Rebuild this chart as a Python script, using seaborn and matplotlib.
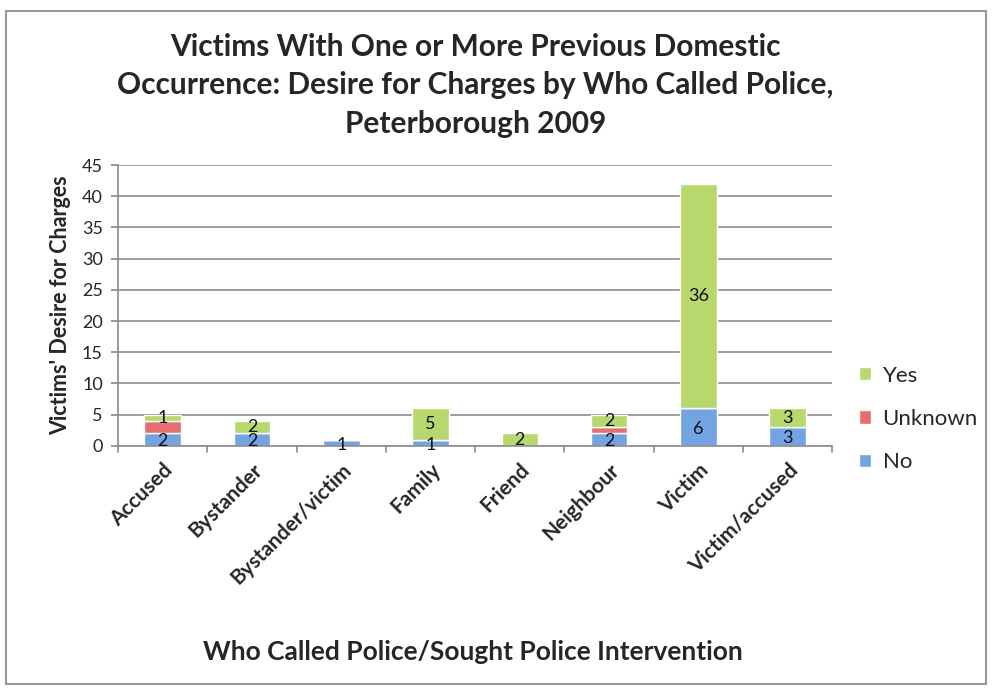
import numpy as np
import pandas as pd
import matplotlib
matplotlib.use("Agg")
import matplotlib.pyplot as plt
import seaborn as sns
from matplotlib.patches import Rectangle

callers = ["Accused", "Bystander", "Bystander/victim", "Family", "Friend",
           "Neighbour", "Victim", "Victim/accused"]
no_vals = [2, 2, 1, 1, 0, 2, 6, 3]
unknown_vals = [2, 0, 0, 0, 0, 1, 0, 0]
yes_vals = [1, 2, 0, 5, 2, 2, 36, 3]
yticks = [0, 5, 10, 15, 20, 25, 30, 35, 40, 45]

sns.set_theme(style="white")
plt.rcParams["font.family"] = ["Lato", "DejaVu Sans"]

fig = plt.figure(figsize=(9.92, 6.88), dpi=100)
ax = fig.add_axes([0.119, 0.352, 0.720, 0.408])

df = pd.DataFrame({"caller": callers, "No": no_vals,
                   "Unknown": unknown_vals, "Yes": yes_vals})
bottom_unknown = np.array(no_vals)
bottom_yes = bottom_unknown + np.array(unknown_vals)

colors = {"No": "#73a3e3", "Unknown": "#e66e6e", "Yes": "#b7d86c"}
width = 0.41
sns.barplot(data=df, x="caller", y="No", color=colors["No"], width=width,
            ax=ax, saturation=1, label="No")
sns.barplot(data=df, x="caller", y="Unknown", color=colors["Unknown"],
            width=width, ax=ax, saturation=1, bottom=bottom_unknown,
            label="Unknown")
sns.barplot(data=df, x="caller", y="Yes", color=colors["Yes"], width=width,
            ax=ax, saturation=1, bottom=bottom_yes, label="Yes")
if ax.get_legend() is not None:
    ax.get_legend().remove()

# value labels centred in the No and Yes segments
for i in range(len(callers)):
    if no_vals[i]:
        ax.text(i, no_vals[i] / 2 - 0.3, str(no_vals[i]), ha="center",
                va="center", fontsize=13, color="#111111")
    if yes_vals[i]:
        ax.text(i, bottom_yes[i] + yes_vals[i] / 2, str(yes_vals[i]),
                ha="center", va="center", fontsize=13, color="#111111")

ax.set_ylim(0, 45)
ax.set_xlim(-0.5, len(callers) - 0.5)
ax.set_yticks(yticks)
ax.set_yticklabels([str(t) for t in yticks], fontsize=13)
ax.yaxis.grid(True, color="#8c8c8c", linewidth=1.2)
ax.set_axisbelow(True)
for s in ["top", "right"]:
    ax.spines[s].set_visible(False)
for s in ["left", "bottom"]:
    ax.spines[s].set_color("#8c8c8c")
    ax.spines[s].set_linewidth(1.2)

ax.set_xticks(range(len(callers)))
ax.set_xticklabels(callers, rotation=45, ha="right", rotation_mode="anchor",
                   fontsize=15, fontweight="bold")
ax.tick_params(axis="x", length=0, pad=10)
ax.tick_params(axis="y", length=5, color="#8c8c8c", left=True, pad=6)
# category separators below the axis
for b in np.arange(-0.5, len(callers), 1.0):
    ax.plot([b, b], [0, -1.0], color="#8c8c8c", lw=1.2, clip_on=False)

ax.set_xlabel("")
ax.set_ylabel("Victims' Desire for Charges", fontsize=15.5,
              fontweight="bold", labelpad=8)

fig.text(0.479, 0.952,
         "Victims With One or More Previous Domestic\n"
         "Occurrence: Desire for Charges by Who Called Police,\n"
         "Peterborough 2009",
         ha="center", va="top", fontsize=21.5, fontweight="bold",
         linespacing=1.45)
fig.text(0.477, 0.053, "Who Called Police/Sought Police Intervention",
         ha="center", va="center", fontsize=19, fontweight="bold")

handles, labels = ax.get_legend_handles_labels()
order = [labels.index(k) for k in ["Yes", "Unknown", "No"]]
leg = fig.legend([handles[k] for k in order], [labels[k] for k in order],
                 loc="center left", bbox_to_anchor=(0.846, 0.391),
                 frameon=False, fontsize=16, labelspacing=1.05,
                 handlelength=0.55, handleheight=0.55, handletextpad=0.5)

fig.patches.append(Rectangle((0.006, 0.006), 0.988, 0.978,
                             transform=fig.transFigure, fill=False,
                             edgecolor="#9a9a9a", linewidth=1.5))

fig.savefig("out.png", dpi=100)
